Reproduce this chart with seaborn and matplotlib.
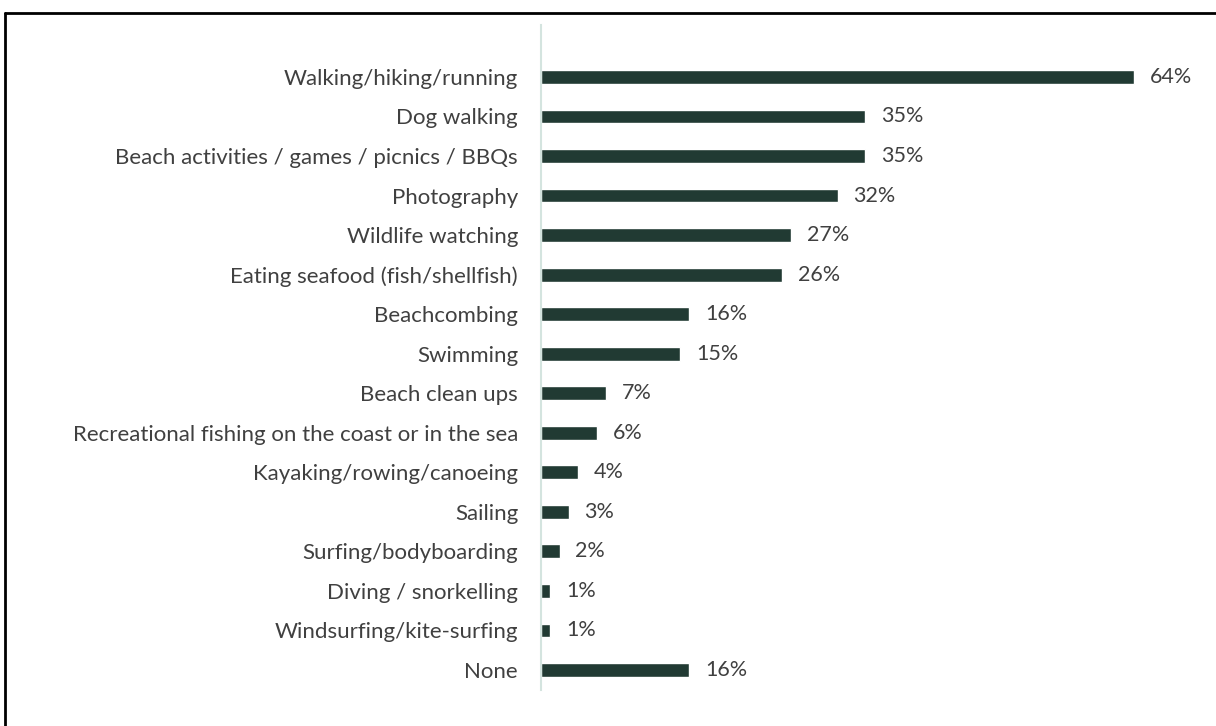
import matplotlib
matplotlib.use("Agg")
import matplotlib.pyplot as plt
from matplotlib.lines import Line2D
import seaborn as sns
import pandas as pd

activities = [
    "Walking/hiking/running",
    "Dog walking",
    "Beach activities / games / picnics / BBQs",
    "Photography",
    "Wildlife watching",
    "Eating seafood (fish/shellfish)",
    "Beachcombing",
    "Swimming",
    "Beach clean ups",
    "Recreational fishing on the coast or in the sea",
    "Kayaking/rowing/canoeing",
    "Sailing",
    "Surfing/bodyboarding",
    "Diving / snorkelling",
    "Windsurfing/kite-surfing",
    "None",
]
shares = [64, 35, 35, 32, 27, 26, 16, 15, 7, 6, 4, 3, 2, 1, 1, 16]

df = pd.DataFrame({"activity": activities, "share": shares})

sns.set_theme(style="white")
plt.rcParams["font.family"] = ["Lato", "DejaVu Sans"]

fig = plt.figure(figsize=(12.16, 7.26), dpi=100)
ax = fig.add_axes([0.4449, 0.0496, 0.5337, 0.9160])

bar_color = "#213a33"
text_color = "#404040"
sns.barplot(data=df, x="share", y="activity", orient="h", color=bar_color,
            width=0.35, saturation=1, ax=ax)

for i, v in enumerate(shares):
    ax.text(v + 1.7, i, f"{v}%", va="center", ha="left", fontsize=15.5, color=text_color)

ax.set_xlim(0, 70)
ax.set_ylim(15.506, -1.315)
ax.set_xlabel("")
ax.set_ylabel("")
ax.set_xticks([])
ax.tick_params(axis="y", length=0, pad=16.5, labelsize=16, labelcolor=text_color)

for side in ["top", "right", "bottom"]:
    ax.spines[side].set_visible(False)
ax.spines["left"].set_color("#d4e4df")
ax.spines["left"].set_linewidth(1.5)

# outer frame (top and left edges)
fig.add_artist(Line2D([5 / 1216, 1], [1 - 13 / 726, 1 - 13 / 726], transform=fig.transFigure,
                      color="black", linewidth=2))
fig.add_artist(Line2D([5 / 1216, 5 / 1216], [0, 1 - 13 / 726], transform=fig.transFigure,
                      color="black", linewidth=2))

fig.savefig("out.png", dpi=100)
